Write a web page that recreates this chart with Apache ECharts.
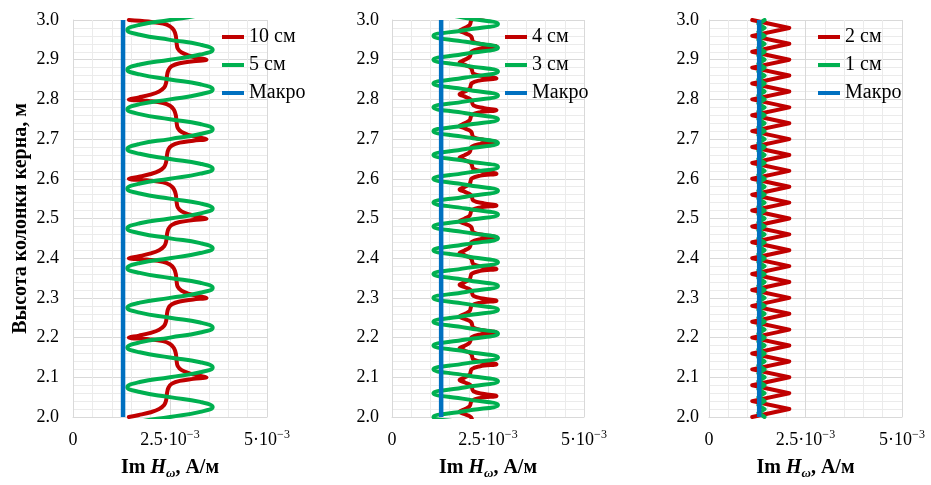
<!DOCTYPE html>
<html>
<head>
<meta charset="utf-8">
<script src="https://cdn.jsdelivr.net/npm/echarts@6/dist/echarts.min.js"></script>
<style>html,body{margin:0;padding:0;background:#fff}#c{width:931px;height:485px}</style>
</head>
<body>
<div id="c"></div>
<script>
// Values of Im H in units of 10^-3 A/m; heights in m.
// Panel 1: 10 cm (red) and 5 cm (green)
const h10 = [3.000,2.996,2.991,2.984,2.974,2.960,2.942,2.928,2.918,2.910,2.904,2.900,2.896,2.891,2.884,2.874,2.858,2.842,2.830,2.820,2.812,2.805,2.800,
 2.796,2.791,2.784,2.774,2.760,2.742,2.728,2.718,2.710,2.704,2.700,2.696,2.691,2.684,2.674,2.658,2.642,2.630,2.620,2.612,2.605,2.600,
 2.596,2.591,2.584,2.574,2.560,2.542,2.528,2.518,2.510,2.504,2.500,2.496,2.491,2.484,2.474,2.458,2.442,2.430,2.420,2.412,2.405,2.400,
 2.396,2.391,2.384,2.374,2.360,2.342,2.328,2.318,2.310,2.304,2.300,2.296,2.291,2.284,2.274,2.258,2.242,2.230,2.220,2.212,2.205,2.200,
 2.196,2.191,2.184,2.174,2.160,2.142,2.128,2.118,2.110,2.104,2.100,2.096,2.091,2.084,2.074,2.058,2.042,2.030,2.020,2.012,2.005,2.000];
const im10 = [1.44,1.95,2.32,2.50,2.60,2.65,2.67,2.70,2.80,3.00,3.25,3.44,3.10,2.75,2.55,2.46,2.42,2.40,2.35,2.22,2.00,1.70,1.44,
 1.95,2.32,2.50,2.60,2.65,2.67,2.70,2.80,3.00,3.25,3.44,3.10,2.75,2.55,2.46,2.42,2.40,2.35,2.22,2.00,1.70,1.44,
 1.95,2.32,2.50,2.60,2.65,2.67,2.70,2.80,3.00,3.25,3.44,3.10,2.75,2.55,2.46,2.42,2.40,2.35,2.22,2.00,1.70,1.44,
 1.95,2.32,2.50,2.60,2.65,2.67,2.70,2.80,3.00,3.25,3.44,3.10,2.75,2.55,2.46,2.42,2.40,2.35,2.22,2.00,1.70,1.44,
 1.95,2.32,2.50,2.60,2.65,2.67,2.70,2.80,3.00,3.25,3.44,3.10,2.75,2.55,2.46,2.42,2.40,2.35,2.22,2.00,1.70,1.44];
const h5 = [3.025,3.013,
 3.000,2.988,2.975,2.963,2.950,2.938,2.925,2.913,
 2.900,2.888,2.875,2.863,2.850,2.838,2.825,2.813,
 2.800,2.788,2.775,2.763,2.750,2.738,2.725,2.713,
 2.700,2.688,2.675,2.663,2.650,2.638,2.625,2.613,
 2.600,2.588,2.575,2.563,2.550,2.538,2.525,2.513,
 2.500,2.488,2.475,2.463,2.450,2.438,2.425,2.413,
 2.400,2.388,2.375,2.363,2.350,2.338,2.325,2.313,
 2.300,2.288,2.275,2.263,2.250,2.238,2.225,2.213,
 2.200,2.188,2.175,2.163,2.150,2.138,2.125,2.113,
 2.100,2.088,2.075,2.063,2.050,2.038,2.025,2.013,
 2.000,1.988,1.975];
const im5 = [3.60,3.28,
 2.50,1.72,1.40,1.72,2.50,3.28,3.60,3.28,
 2.50,1.72,1.40,1.72,2.50,3.28,3.60,3.28,
 2.50,1.72,1.40,1.72,2.50,3.28,3.60,3.28,
 2.50,1.72,1.40,1.72,2.50,3.28,3.60,3.28,
 2.50,1.72,1.40,1.72,2.50,3.28,3.60,3.28,
 2.50,1.72,1.40,1.72,2.50,3.28,3.60,3.28,
 2.50,1.72,1.40,1.72,2.50,3.28,3.60,3.28,
 2.50,1.72,1.40,1.72,2.50,3.28,3.60,3.28,
 2.50,1.72,1.40,1.72,2.50,3.28,3.60,3.28,
 2.50,1.72,1.40,1.72,2.50,3.28,3.60,3.28,
 2.50,1.72,1.40];

// Panel 2: 4 cm (red) and 3 cm (green)
const h4 = [3.013,3.008,3.001,2.987,2.979,2.973,2.967,2.959,2.945,2.938,
 2.933,2.928,2.921,2.907,2.899,2.893,2.887,2.879,2.865,2.858,
 2.853,2.848,2.841,2.827,2.819,2.813,2.807,2.799,2.785,2.778,
 2.773,2.768,2.761,2.747,2.739,2.733,2.727,2.719,2.705,2.698,
 2.693,2.688,2.681,2.667,2.659,2.653,2.647,2.639,2.625,2.618,
 2.613,2.608,2.601,2.587,2.579,2.573,2.567,2.559,2.545,2.538,
 2.533,2.528,2.521,2.507,2.499,2.493,2.487,2.479,2.465,2.458,
 2.453,2.448,2.441,2.427,2.419,2.413,2.407,2.399,2.385,2.378,
 2.373,2.368,2.361,2.347,2.339,2.333,2.327,2.319,2.305,2.298,
 2.293,2.288,2.281,2.267,2.259,2.253,2.247,2.239,2.225,2.218,
 2.213,2.208,2.201,2.187,2.179,2.173,2.167,2.159,2.145,2.138,
 2.133,2.128,2.121,2.107,2.099,2.093,2.087,2.079,2.065,2.058,
 2.053,2.048,2.041,2.027,2.019,2.013,2.007,1.999,1.985,1.978,
 1.973];
const im4 = [2.72,2.30,2.08,2.02,1.88,1.76,1.90,2.06,2.12,2.40,
 2.72,2.30,2.08,2.02,1.88,1.76,1.90,2.06,2.12,2.40,
 2.72,2.30,2.08,2.02,1.88,1.76,1.90,2.06,2.12,2.40,
 2.72,2.30,2.08,2.02,1.88,1.76,1.90,2.06,2.12,2.40,
 2.72,2.30,2.08,2.02,1.88,1.76,1.90,2.06,2.12,2.40,
 2.72,2.30,2.08,2.02,1.88,1.76,1.90,2.06,2.12,2.40,
 2.72,2.30,2.08,2.02,1.88,1.76,1.90,2.06,2.12,2.40,
 2.72,2.30,2.08,2.02,1.88,1.76,1.90,2.06,2.12,2.40,
 2.72,2.30,2.08,2.02,1.88,1.76,1.90,2.06,2.12,2.40,
 2.72,2.30,2.08,2.02,1.88,1.76,1.90,2.06,2.12,2.40,
 2.72,2.30,2.08,2.02,1.88,1.76,1.90,2.06,2.12,2.40,
 2.72,2.30,2.08,2.02,1.88,1.76,1.90,2.06,2.12,2.40,
 2.72,2.30,2.08,2.02,1.88,1.76,1.90,2.06,2.12,2.40,
 2.72];
const h3 = [3.020,3.005,2.990,2.975,2.960,2.945,2.930,2.915,2.900,2.885,2.870,2.855,2.840,2.825,2.810,2.795,2.780,2.765,2.750,2.735,
 2.720,2.705,2.690,2.675,2.660,2.645,2.630,2.615,2.600,2.585,2.570,2.555,2.540,2.525,2.510,2.495,2.480,2.465,2.450,2.435,
 2.420,2.405,2.390,2.375,2.360,2.345,2.330,2.315,2.300,2.285,2.270,2.255,2.240,2.225,2.210,2.195,2.180,2.165,2.150,2.135,
 2.120,2.105,2.090,2.075,2.060,2.045,2.030,2.015,2.000,1.985,1.970];
const im3 = [1.08,1.92,2.76,1.92,1.08,1.92,2.76,1.92,1.08,1.92,2.76,1.92,1.08,1.92,2.76,1.92,1.08,1.92,2.76,1.92,
 1.08,1.92,2.76,1.92,1.08,1.92,2.76,1.92,1.08,1.92,2.76,1.92,1.08,1.92,2.76,1.92,1.08,1.92,2.76,1.92,
 1.08,1.92,2.76,1.92,1.08,1.92,2.76,1.92,1.08,1.92,2.76,1.92,1.08,1.92,2.76,1.92,1.08,1.92,2.76,1.92,
 1.08,1.92,2.76,1.92,1.08,1.92,2.76,1.92,1.08,1.92,2.76];

// Panel 3: 2 cm (red) and 1 cm (green)
const h2 = [3.00,2.98,2.96,2.94,2.92,2.90,2.88,2.86,2.84,2.82,2.80,2.78,2.76,2.74,2.72,2.70,2.68,2.66,2.64,2.62,
 2.60,2.58,2.56,2.54,2.52,2.50,2.48,2.46,2.44,2.42,2.40,2.38,2.36,2.34,2.32,2.30,2.28,2.26,2.24,2.22,
 2.20,2.18,2.16,2.14,2.12,2.10,2.08,2.06,2.04,2.02,2.00];
const im2 = [1.12,2.08,1.12,2.08,1.12,2.08,1.12,2.08,1.12,2.08,1.12,2.08,1.12,2.08,1.12,2.08,1.12,2.08,1.12,2.08,
 1.12,2.08,1.12,2.08,1.12,2.08,1.12,2.08,1.12,2.08,1.12,2.08,1.12,2.08,1.12,2.08,1.12,2.08,1.12,2.08,
 1.12,2.08,1.12,2.08,1.12,2.08,1.12,2.08,1.12,2.08,1.12];
const h1 = [3.00,2.99,2.98,2.97,2.96,2.95,2.94,2.93,2.92,2.91,2.90,2.89,2.88,2.87,2.86,2.85,2.84,2.83,2.82,2.81,
 2.80,2.79,2.78,2.77,2.76,2.75,2.74,2.73,2.72,2.71,2.70,2.69,2.68,2.67,2.66,2.65,2.64,2.63,2.62,2.61,
 2.60,2.59,2.58,2.57,2.56,2.55,2.54,2.53,2.52,2.51,2.50,2.49,2.48,2.47,2.46,2.45,2.44,2.43,2.42,2.41,
 2.40,2.39,2.38,2.37,2.36,2.35,2.34,2.33,2.32,2.31,2.30,2.29,2.28,2.27,2.26,2.25,2.24,2.23,2.22,2.21,
 2.20,2.19,2.18,2.17,2.16,2.15,2.14,2.13,2.12,2.11,2.10,2.09,2.08,2.07,2.06,2.05,2.04,2.03,2.02,2.01,2.00];
const im1 = [1.44,1.28,1.44,1.28,1.44,1.28,1.44,1.28,1.44,1.28,1.44,1.28,1.44,1.28,1.44,1.28,1.44,1.28,1.44,1.28,
 1.44,1.28,1.44,1.28,1.44,1.28,1.44,1.28,1.44,1.28,1.44,1.28,1.44,1.28,1.44,1.28,1.44,1.28,1.44,1.28,
 1.44,1.28,1.44,1.28,1.44,1.28,1.44,1.28,1.44,1.28,1.44,1.28,1.44,1.28,1.44,1.28,1.44,1.28,1.44,1.28,
 1.44,1.28,1.44,1.28,1.44,1.28,1.44,1.28,1.44,1.28,1.44,1.28,1.44,1.28,1.44,1.28,1.44,1.28,1.44,1.28,
 1.44,1.28,1.44,1.28,1.44,1.28,1.44,1.28,1.44,1.28,1.44,1.28,1.44,1.28,1.44,1.28,1.44,1.28,1.44,1.28,1.44];

// Macro (homogeneous) solution, one value per panel
const hMacro = [2.0, 3.0];
const imMacro = [1.29, 1.28, 1.30];

const xTicks = [0, 2.5, 5];
const panelNames = [['10 см','5 см','Макро'],['4 см','3 см','Макро'],['2 см','1 см','Макро']];

const FONT = '"Liberation Serif","Times New Roman",serif';
const RED = '#C00000', GREEN = '#00B050', BLUE = '#0070C0';
const zip = (xs, ys) => xs.map((x, i) => [x, ys[i]]);

const grids = [
  {left: 73, top: 20, width: 194, height: 407},
  {left: 392, top: 20, width: 192, height: 407},
  {left: 709, top: 20, width: 193, height: 407}
];
const yMargins = [14, 13, 10];
const legendLeft = [217, 500, 813];

const xAxes = grids.map((g, i) => ({
  type: 'value', gridIndex: i, min: 0, max: 5, interval: 2.5,
  axisLine: {show: true, lineStyle: {color: '#d9d9d9', width: 1}},
  axisTick: {show: false},
  splitLine: {show: true, lineStyle: {color: '#d9d9d9', width: 1}},
  minorTick: {show: false, splitNumber: 5},
  minorSplitLine: {show: true, lineStyle: {color: '#ebebeb', width: 1}},
  axisLabel: {
    margin: 12, fontFamily: FONT, fontSize: 18, color: '#000',
    formatter: v => {
      if (Math.abs(v) < 1e-9) return '{m|0}';
      const t = xTicks.find(k => Math.abs(k - v) < 1e-9);
      return '{m|' + String(t) + '·10}{s|−3}';
    },
    rich: {
      m: {fontFamily: FONT, fontSize: 18, lineHeight: 22, color: '#000'},
      s: {fontFamily: FONT, fontSize: 12, lineHeight: 12, verticalAlign: 'top', color: '#000'}
    }
  },
  name: '{a|Im }{h|H}{w|ω}{a|, А/м}',
  nameLocation: 'middle', nameGap: 39,
  nameTextStyle: {
    rich: {
      a: {fontFamily: FONT, fontSize: 20, fontWeight: 'bold', lineHeight: 24, color: '#000'},
      h: {fontFamily: FONT, fontSize: 20, fontWeight: 'bold', fontStyle: 'italic', lineHeight: 24, color: '#000'},
      w: {fontFamily: FONT, fontSize: 13, fontWeight: 'bold', fontStyle: 'italic', lineHeight: 12, verticalAlign: 'bottom', color: '#000'}
    }
  }
}));

const yAxes = grids.map((g, i) => ({
  type: 'value', gridIndex: i, min: 2.0, max: 3.0, interval: 0.1,
  axisLine: {show: true, lineStyle: {color: '#d9d9d9', width: 1}},
  axisTick: {show: false},
  splitLine: {show: true, lineStyle: {color: '#d9d9d9', width: 1}},
  minorTick: {show: false, splitNumber: 5},
  minorSplitLine: {show: true, lineStyle: {color: '#ebebeb', width: 1}},
  axisLabel: {margin: yMargins[i], fontFamily: FONT, fontSize: 18, color: '#000',
    formatter: v => v.toFixed(1)},
  name: i === 0 ? 'Высота колонки керна, м' : '',
  nameLocation: 'middle', nameGap: 42, nameRotate: 90,
  nameTextStyle: {fontFamily: FONT, fontSize: 20, fontWeight: 'bold', color: '#000'}
}));

function line(name, idx, xs, ys, color, smooth) {
  return {
    name, type: 'line', xAxisIndex: idx, yAxisIndex: idx,
    data: zip(xs, ys), showSymbol: false, symbol: 'none', smooth: smooth,
    color: color, clip: true,
    lineStyle: {color: color, width: 4, join: 'round', cap: 'round'},
    itemStyle: {color: color}, animation: false
  };
}

const series = [
  line('10 см', 0, im10, h10, RED, 0.4),
  line('5 см', 0, im5, h5, GREEN, 0.5),
  line('Макро', 0, [imMacro[0], imMacro[0]], hMacro, BLUE, false),
  line('4 см', 1, im4, h4, RED, 0.4),
  line('3 см', 1, im3, h3, GREEN, 0.5),
  line('Макро', 1, [imMacro[1], imMacro[1]], hMacro, BLUE, false),
  line('2 см', 2, im2, h2, RED, false),
  line('1 см', 2, im1, h1, GREEN, false),
  line('Макро', 2, [imMacro[2], imMacro[2]], hMacro, BLUE, false)
];
series.forEach(s => { if (s.name === 'Макро') { s.lineStyle.cap = 'butt'; s.lineStyle.width = 4.5; } });

const legends = panelNames.map((names, i) => ({
  data: names, orient: 'vertical', left: legendLeft[i], top: 22,
  icon: 'rect', itemWidth: 22, itemHeight: 4, itemGap: 8,
  selectedMode: false,
  textStyle: {fontFamily: FONT, fontSize: 20, color: '#000', lineHeight: 20}
}));

const chart = echarts.init(document.getElementById('c'), null, {renderer: 'canvas'});
chart.setOption({
  animation: false,
  backgroundColor: '#fff',
  textStyle: {fontFamily: FONT},
  grid: grids,
  xAxis: xAxes,
  yAxis: yAxes,
  legend: legends,
  series: series
});
</script>
</body>
</html>
